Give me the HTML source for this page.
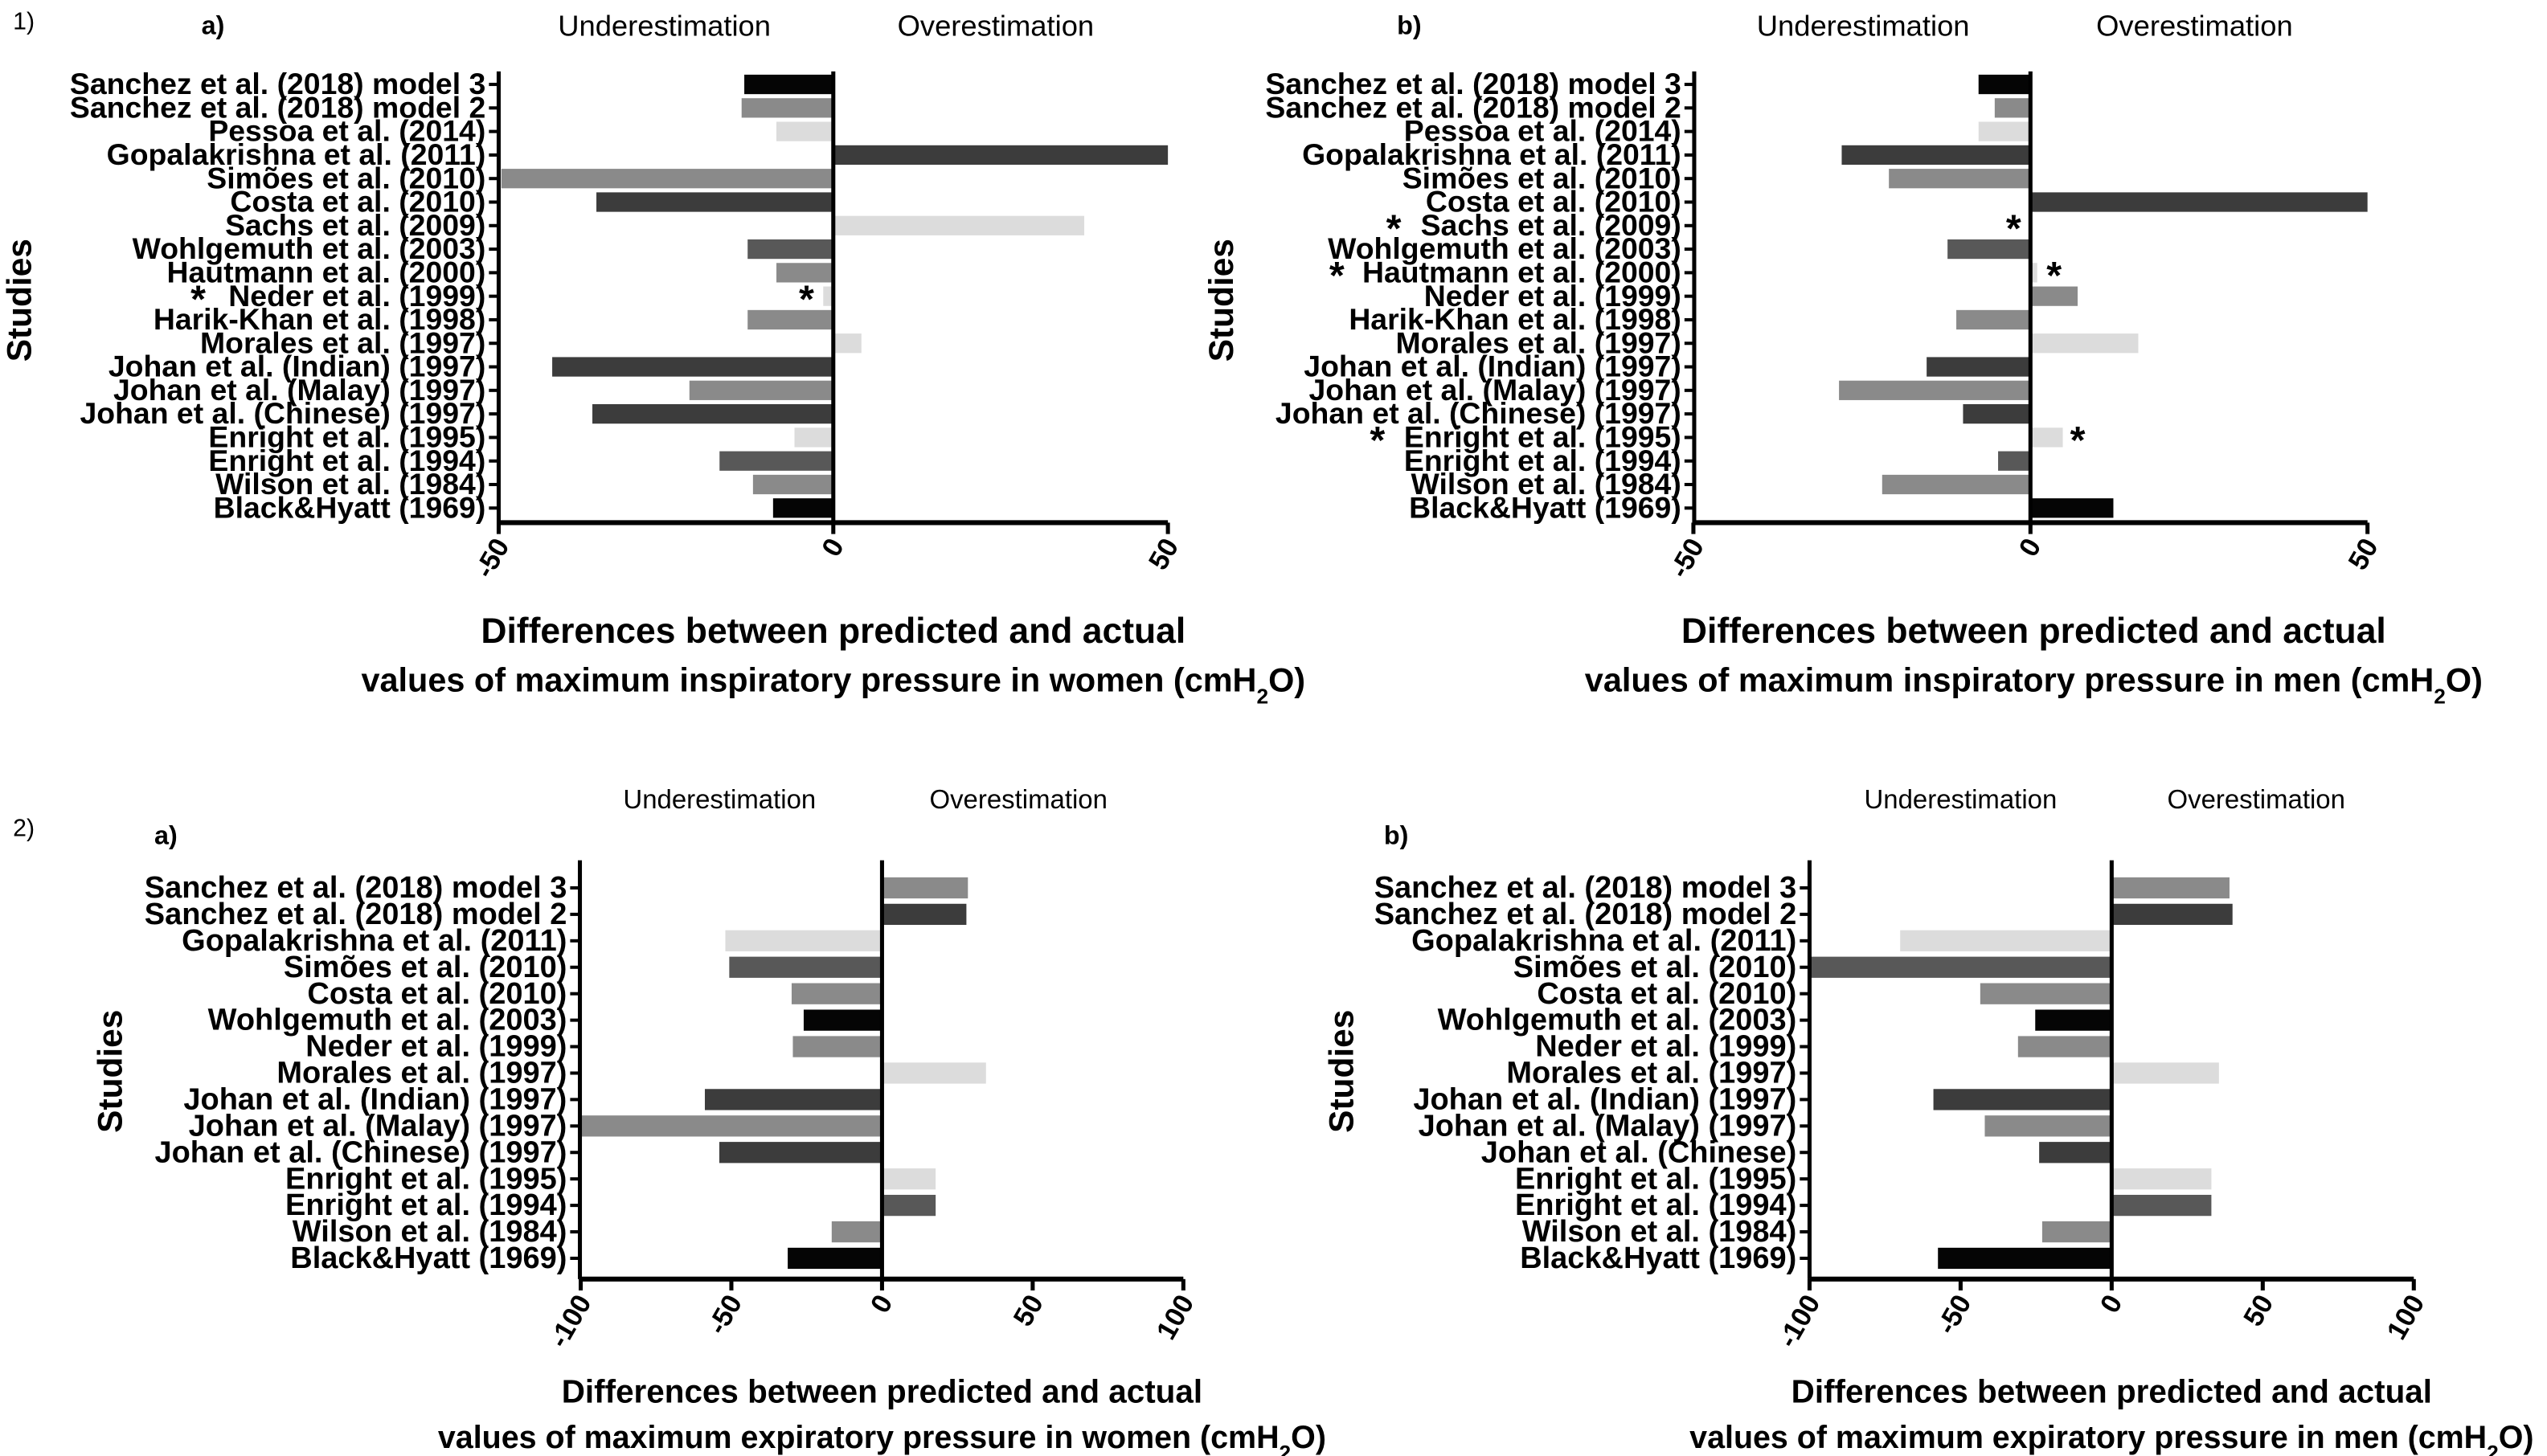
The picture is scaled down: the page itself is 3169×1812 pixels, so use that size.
<!DOCTYPE html>
<html><head><meta charset="utf-8"><style>
html,body{margin:0;padding:0;background:#fff}
svg{display:block}
text{font-family:"Liberation Sans Narrow","Liberation Sans",sans-serif}
</style></head><body>
<svg id="chart" width="3169" height="1812" viewBox="0 0 1568 897" preserveAspectRatio="none" xmlns="http://www.w3.org/2000/svg">
<rect width="1568" height="897" fill="#fff"/>
<text x="8" y="18" font-size="15">1)</text>
<text x="8" y="515" font-size="15">2)</text>
</svg>
<script>
const labels1 = ["Sanchez et al. (2018) model 3","Sanchez et al. (2018) model 2","Pessoa et al. (2014)","Gopalakrishna et al. (2011)","Simões et al. (2010)","Costa et al. (2010)","Sachs et al. (2009)","Wohlgemuth et al. (2003)","Hautmann et al. (2000)","Neder et al. (1999)","Harik-Khan et al. (1998)","Morales et al. (1997)","Johan et al. (Indian) (1997)","Johan et al. (Malay) (1997)","Johan et al. (Chinese) (1997)","Enright et al. (1995)","Enright et al. (1994)","Wilson et al. (1984)","Black&Hyatt (1969)"];
const shades1a = ["k","m","l","d","m","d","l","dm","m","l","m","l","d","m","d","l","dm","m","k"];
const valuesWomenMIP = [-13.3,-13.7,-8.5,50,-49.6,-35.4,37.5,-12.8,-8.5,-1.5,-12.8,4.2,-42,-21.5,-36,-5.8,-17,-12,-9];
const shades1b = ["k","m","l","d","m","d","l","dm","l","m","m","l","d","m","d","l","dm","m","k"];
const valuesMenMIP = [-7.7,-5.3,-7.7,-28,-21,50,0,-12.3,1,7,-11,16,-15.4,-28.4,-10,4.8,-4.8,-22,12.3];
const ticks1 = [-50,0,50];

const labels2a = ["Sanchez et al. (2018) model 3","Sanchez et al. (2018) model 2","Gopalakrishna et al. (2011)","Simões et al. (2010)","Costa et al. (2010)","Wohlgemuth et al. (2003)","Neder et al. (1999)","Morales et al. (1997)","Johan et al. (Indian) (1997)","Johan et al. (Malay) (1997)","Johan et al. (Chinese) (1997)","Enright et al. (1995)","Enright et al. (1994)","Wilson et al. (1984)","Black&Hyatt (1969)"];
const labels2b = ["Sanchez et al. (2018) model 3","Sanchez et al. (2018) model 2","Gopalakrishna et al. (2011)","Simões et al. (2010)","Costa et al. (2010)","Wohlgemuth et al. (2003)","Neder et al. (1999)","Morales et al. (1997)","Johan et al. (Indian) (1997)","Johan et al. (Malay) (1997)","Johan et al. (Chinese)","Enright et al. (1995)","Enright et al. (1994)","Wilson et al. (1984)","Black&Hyatt (1969)"];
const shades2a = ["m","d","l","dm","m","k","m","l","d","m","d","l","dm","m","k"];
const valuesWomenMEP = [28.5,28,-52,-50.7,-30,-26,-29.6,34.5,-58.8,-100,-54,17.8,17.8,-16.7,-31.3];
const shades2b = ["m","d","l","dm","m","k","m","l","d","m","d","l","dm","m","k"];
const valuesMenMEP = [39,40,-70,-100,-43.5,-25.3,-31,35.5,-59,-42,-24,33,33,-23,-57.5];
const ticks2 = [-100,-50,0,50,100];

const colorMap = {k:"#050505",d:"#3c3c3c",dm:"#585858",m:"#8a8a8a",l:"#dcdcdc"};
const svg = document.getElementById('chart');
const NS = "http://www.w3.org/2000/svg";
function mk(tag, attrs, txt){const e=document.createElementNS(NS,tag);for(const k in attrs)e.setAttribute(k,attrs[k]);if(txt!==undefined)e.textContent=txt;svg.appendChild(e);return e;}

function panel(p){
  const xs = v => p.zeroX + v * p.pxPerUnit;
  const ys = i => p.y0 + i * p.step;
  p.values.forEach((v,i)=>{
    const x0 = Math.min(xs(0), xs(v)), w = Math.max(Math.abs(xs(v)-xs(0)), 0.5);
    const r = mk('rect',{x:x0,y:ys(i)-p.barH/2,width:w,height:p.barH,fill:colorMap[p.shades[i]]});
    
    
    const t = mk('text',{x:p.axisX-8,y:ys(i)+6,'font-size':p.lblSize,'font-weight':'bold','text-anchor':'end'},p.labels[i]);
    
    
    const tk = mk('line',{x1:p.axisX-6,x2:p.axisX,y1:ys(i),y2:ys(i),stroke:'#000','stroke-width':2});
    
    
  });
  const ya = mk('line',{x1:p.axisX,x2:p.axisX,y1:p.yTop,y2:p.xAxisY,stroke:'#000','stroke-width':2.5});
   
  const zl = mk('line',{x1:xs(0),x2:xs(0),y1:p.yTop,y2:p.xAxisY,stroke:'#000','stroke-width':2.5});
   
  const xa = mk('line',{x1:p.axisX,x2:xs(p.ticks[p.ticks.length-1]),y1:p.xAxisY,y2:p.xAxisY,stroke:'#000','stroke-width':3});
   
  p.ticks.forEach(t=>{
    const tl = mk('line',{x1:xs(t),x2:xs(t),y1:p.xAxisY,y2:p.xAxisY+7,stroke:'#000','stroke-width':2.5});
     
    const tx = mk('text',{x:xs(t)+7,y:p.xAxisY+14,'font-size':17,'font-weight':'bold','text-anchor':'end',transform:`rotate(-60 ${xs(t)+7} ${p.xAxisY+14})`},String(t));
     
  });
  const st = mk('text',{x:p.studiesX,y:p.studiesY,'font-size':21,'font-weight':'bold','text-anchor':'middle',transform:`rotate(-90 ${p.studiesX} ${p.studiesY})`},'Studies');
   
  const l1 = mk('text',{x:p.titleX,y:p.titleY,'font-size':p.t1Size,'font-weight':'bold','text-anchor':'middle'},'Differences between predicted and actual');
   
  const l2 = mk('text',{x:p.titleX,y:p.titleY+p.lineGap,'font-size':p.t2Size,'font-weight':'bold','text-anchor':'middle'},'');
   
  l2.innerHTML = p.title2 + ' (cmH<tspan baseline-shift="sub" font-size="13">2</tspan>O)';
  const u = mk('text',{x:p.underX,y:p.headY,'font-size':p.headSize,'text-anchor':'middle'},'Underestimation');
   
  const o = mk('text',{x:p.overX,y:p.headY,'font-size':p.headSize,'text-anchor':'middle'},'Overestimation');
   
  const pl = mk('text',{x:p.letterX,y:p.letterY,'font-size':16,'font-weight':'bold'},p.letter);
   
  (p.stars||[]).forEach(s=>{
    const a = mk('text',{x:s.lx,y:ys(s.i)+10,'font-size':24,'font-weight':'bold','text-anchor':'middle'},'*');
     
    const b = mk('text',{x:xs(s.v),y:ys(s.i)+10,'font-size':24,'font-weight':'bold','text-anchor':'middle'},'*');
     
  });
}

panel({id:'1a',labels:labels1,values:valuesWomenMIP,shades:shades1a,ticks:ticks1,zeroX:513,pxPerUnit:4.12,axisX:307,y0:52,step:14.5,barH:12,yTop:44,xAxisY:322,lblSize:18.5,studiesX:19,studiesY:185,titleX:513,titleY:396,lineGap:30,t1Size:22,t2Size:20.5,title2:'values of maximum inspiratory pressure in women',underX:409,overX:613,headY:22,headSize:18,letter:'a)',letterX:124,letterY:21,stars:[{i:9,lx:122,v:-4}]});
panel({id:'1b',labels:labels1,values:valuesMenMIP,shades:shades1b,ticks:ticks1,zeroX:1250,pxPerUnit:4.15,axisX:1043,y0:52,step:14.5,barH:12,yTop:44,xAxisY:322,lblSize:18.5,studiesX:759,studiesY:185,titleX:1252,titleY:396,lineGap:30,t1Size:22,t2Size:20.5,title2:'values of maximum inspiratory pressure in men',underX:1147,overX:1351,headY:22,headSize:18,letter:'b)',letterX:860,letterY:21,stars:[{i:6,lx:858,v:-2.5},{i:8,lx:823,v:3.5},{i:15,lx:848,v:7}]});
panel({id:'2a',labels:labels2a,values:valuesWomenMEP,shades:shades2a,ticks:ticks2,zeroX:543,pxPerUnit:1.855,axisX:357,y0:547,step:16.3,barH:13,yTop:530,xAxisY:788,lblSize:18.8,studiesX:75,studiesY:660,titleX:543,titleY:864,lineGap:28,t1Size:20,t2Size:19.5,title2:'values of maximum expiratory pressure in women',underX:443,overX:627,headY:498,headSize:16.3,letter:'a)',letterX:95,letterY:520});
panel({id:'2b',labels:labels2b,values:valuesMenMEP,shades:shades2b,ticks:ticks2,zeroX:1300,pxPerUnit:1.86,axisX:1114,y0:547,step:16.3,barH:13,yTop:530,xAxisY:788,lblSize:18.8,studiesX:833,studiesY:660,titleX:1300,titleY:864,lineGap:28,t1Size:20,t2Size:19.5,title2:'values of maximum expiratory pressure in men',underX:1207,overX:1389,headY:498,headSize:16.3,letter:'b)',letterX:852,letterY:520});
</script>
</body></html>
